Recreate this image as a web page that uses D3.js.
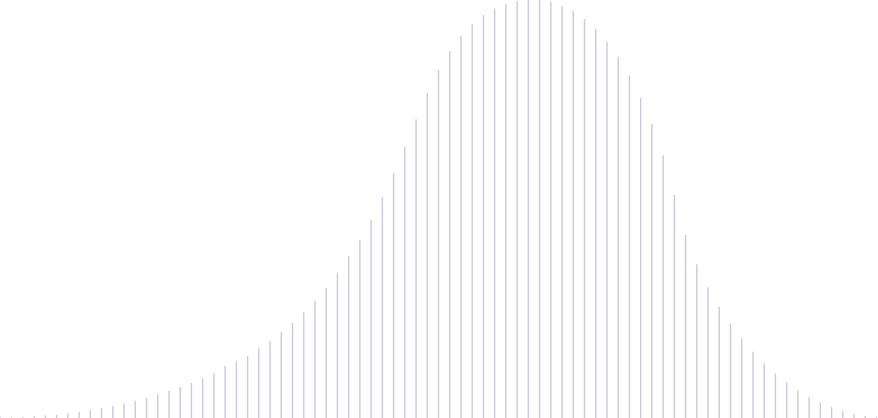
<!DOCTYPE html>
<html>
<head>
<meta charset="utf-8">
<script src="https://cdn.jsdelivr.net/npm/d3@7"></script>
<style>
  body { margin: 0; background: #fff; }
</style>
</head>
<body>
<div id="chart"></div>
<script>
// bin heights, left to right
const values = [
  0.7, 0.7, 1, 1.7, 2.7, 3.3, 4.7, 6.3, 8, 10,
  12, 14.7, 17.3, 20, 23.7, 27, 31, 35, 39.7, 44.7,
  52, 56.7, 62.3, 69.7, 77, 85.7, 95, 105.7, 117.3, 130.3,
  144.7, 162, 178.3, 198, 220.7, 245, 271.3, 298.7, 325, 348,
  367, 382.3, 394, 403, 409.3, 414, 416.7, 418, 418, 416.3,
  412.3, 407, 399, 389, 376.3, 361.3, 342.7, 320.3, 294.3, 262.7,
  223, 183, 153.7, 130.7, 111.3, 94.7, 79.7, 66.3, 54.7, 44.7,
  35.7, 27.7, 21, 15.3, 11, 7, 4, 2, 1.3
];
const bins = d3.range(values.length);

const width = 878,
  height = 418;

const svg = d3
  .select("#chart")
  .append("svg")
  .attr("width", width)
  .attr("height", height);

const x = d3.scalePoint().domain(bins).range([0.5, 876.5]);

const y = d3
  .scaleLinear()
  .domain([0, d3.max(values)])
  .range([height, 0]);

// one thin stem per bin
svg
  .append("g")
  .selectAll("line")
  .data(values)
  .join("line")
  .attr("x1", (d, i) => x(i))
  .attr("x2", (d, i) => x(i))
  .attr("y1", y(0))
  .attr("y2", d => y(d))
  .attr("stroke", "#cbc8e4")
  .attr("stroke-width", 1.4);
</script>
</body>
</html>
